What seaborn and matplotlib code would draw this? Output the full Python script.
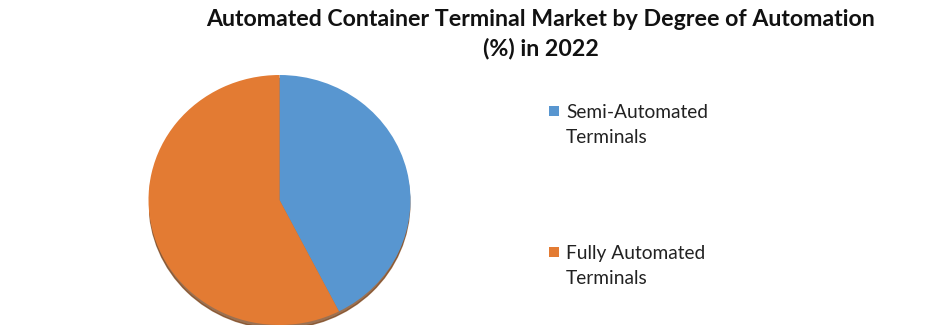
import matplotlib
matplotlib.use("Agg")
import matplotlib.pyplot as plt
import seaborn as sns
from matplotlib.patches import Ellipse, Rectangle

categories = ["Semi-Automated\nTerminals", "Fully Automated\nTerminals"]
shares = [42.5, 57.5]
colors = ["#5896D0", "#E37B33"]
title = "Automated Container Terminal Market by Degree of Automation\n(%) in 2022"

sns.set_theme(style="white")
plt.rcParams['font.family'] = ['Lato', 'DejaVu Sans']

W, H = 940, 336
fig = plt.figure(figsize=(9.4, 3.36), dpi=100)
ax = fig.add_axes([148.5/W, 11/H, 262/W, 250/H])

shadow = Ellipse((0.0, -0.028), 1.99, 2.0, color="#7a4218", alpha=0.75, zorder=0)
ax.add_patch(shadow)
wedges, _ = ax.pie(shares, colors=colors, startangle=90, counterclock=False,
                   radius=1, frame=False, wedgeprops=dict(linewidth=0))
for w in wedges:
    w.set_zorder(1)
ax.set_aspect('auto')
ax.set_xlim(-1, 1)
ax.set_ylim(-1, 1)
ax.axis('off')

fig.text(541/W, 1 - 9/H, title, ha='center', va='top', fontsize=16.7,
         fontweight='bold', linespacing=1.45, color='#111111')

# legend (drawn manually so the swatch aligns with the first text line)
entry_y = [111, 252]
for lab, col, yc in zip(categories, colors, entry_y):
    fig.patches.append(Rectangle((548.5/W, 1 - (yc + 5)/H), 10/W, 10/H,
                                 transform=fig.transFigure, facecolor=col,
                                 edgecolor='none'))
    fig.text(566/W, 1 - (yc - 7)/H, lab, ha='left', va='top', fontsize=13.8,
             linespacing=1.55, color='#222222')

fig.savefig("out.png", dpi=100)
